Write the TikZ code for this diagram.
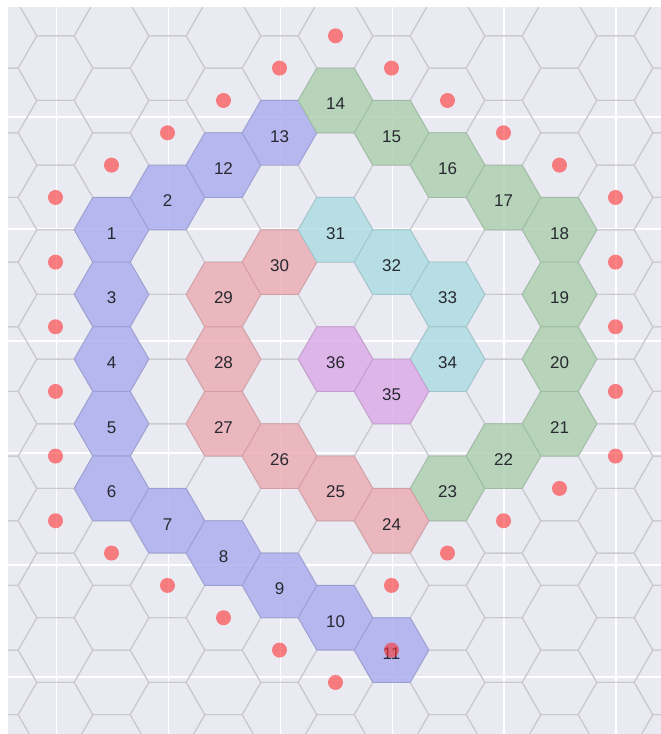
\documentclass[tikz,border=0pt]{standalone}
\usepackage{fontspec}
\setmainfont{Liberation Sans}
\usetikzlibrary{shapes.geometric}
\definecolor{bg}{RGB}{234,234,242}
\definecolor{gridc}{RGB}{200,200,206}
\definecolor{hblue}{RGB}{172,175,238}
\definecolor{hgreen}{RGB}{175,209,178}
\definecolor{hred}{RGB}{236,175,181}
\definecolor{hcyan}{RGB}{175,221,227}
\definecolor{hpurple}{RGB}{221,172,231}
\definecolor{dotc}{RGB}{255,50,50}
\definecolor{txt}{RGB}{40,40,48}
\tikzset{
  hexcell/.style={regular polygon, regular polygon sides=6, minimum size=74.67pt,
    inner sep=0pt, outer sep=0pt, line width=0.7pt, fill opacity=0.85},
  lbl/.style={anchor=base, font=\fontsize{17}{20}\selectfont, text=txt, inner sep=0pt, yshift=-9.5pt},
  reddot/.style={fill=dotc, fill opacity=0.6},
  gridline/.style={draw=gridc, line width=1pt, line join=round},
  tickline/.style={draw=white, line width=1.4pt}
}
\begin{document}
\begin{tikzpicture}[x=1pt,y=-1pt]
\useasboundingbox (0,0) rectangle (661,734);
\fill[white] (0,0) rectangle (661,734);
\fill[bg] (8,7) rectangle (661,734);
\begin{scope}
  \clip (8,7) rectangle (661,734);
  % white axis grid
  \foreach \m in {0,...,5} {
    \draw[tickline] ({56.5+111.9*\m},7) -- ({56.5+111.9*\m},734);
    \draw[tickline] (8,{117+112*\m}) -- (661,{117+112*\m});
  }
  % hex lattice
  \foreach \i in {-1,...,11} {
    \foreach \j in {-6,...,6} {
      \pgfmathsetmacro{\xx}{55.5+56*\i}
      \pgfmathsetmacro{\yy}{359.1+64.66*\j+32.33*(1-mod(\i,2))}
      \draw[gridline] (\xx,\yy) ++(37.33,0) -- ++(-18.67,32.33) -- ++(-37.33,0)
        -- ++(-18.67,-32.33) -- ++(18.67,-32.33) -- ++(37.33,0) -- cycle;
    }
  }
\end{scope}
% coloured cells
\foreach \n/\i/\k/\c in {
  1/1/-4/hblue, 2/2/-5/hblue, 3/1/-2/hblue, 4/1/0/hblue, 5/1/2/hblue, 6/1/4/hblue,
  7/2/5/hblue, 8/3/6/hblue, 9/4/7/hblue, 10/5/8/hblue, 11/6/9/hblue, 12/3/-6/hblue,
  13/4/-7/hblue,
  14/5/-8/hgreen, 15/6/-7/hgreen, 16/7/-6/hgreen, 17/8/-5/hgreen, 18/9/-4/hgreen,
  19/9/-2/hgreen, 20/9/0/hgreen, 21/9/2/hgreen, 22/8/3/hgreen, 23/7/4/hgreen,
  24/6/5/hred, 25/5/4/hred, 26/4/3/hred, 27/3/2/hred, 28/3/0/hred, 29/3/-2/hred,
  30/4/-3/hred,
  31/5/-4/hcyan, 32/6/-3/hcyan, 33/7/-2/hcyan, 34/7/0/hcyan,
  35/6/1/hpurple, 36/5/0/hpurple} {
  \node[hexcell, fill=\c, draw=\c!90!black] (h\n) at ({55.5+56*\i},{359.1+32.33*\k}) {};
  \node[lbl] (t\n) at (h\n.center) {\n};
}
% red dots
\foreach \i/\k in {5/-10, 4/-9, 6/-9, 3/-8, 7/-8, 2/-7, 8/-7, 1/-6, 9/-6,
  0/-5, 10/-5, 0/-3, 10/-3, 0/-1, 10/-1, 0/1, 10/1, 0/3, 10/3, 0/5,
  9/4, 1/6, 8/5, 2/7, 7/6, 3/8, 6/7, 4/9, 6/9, 5/10} {
  \fill[reddot] ({55.5+56*\i},{359.1+32.33*\k}) circle (7.5pt);
}
\end{tikzpicture}
\end{document}
